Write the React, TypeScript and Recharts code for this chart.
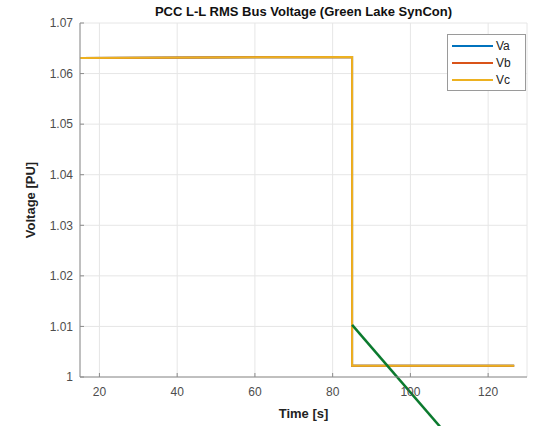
import React from 'react';
import {
  LineChart,
  Line,
  XAxis,
  YAxis,
  CartesianGrid,
  ReferenceLine
} from 'recharts';

// time samples [s] and per-phase RMS voltage [PU]
const times = [15, 85, 85, 126.7];
const vaValues = [1.0631, 1.0633, 1.0022, 1.0022];
const vbValues = [1.0631, 1.0633, 1.0022, 1.0022];
const vcValues = [1.0631, 1.0633, 1.0022, 1.0022];

const xTicks = [20, 40, 60, 80, 100, 120];
const yTicks = [1, 1.01, 1.02, 1.03, 1.04, 1.05, 1.06, 1.07];

const seriesNames = ['Va', 'Vb', 'Vc'];
const seriesColors = ['#0072BD', '#D95319', '#EDB120'];

// annotation arrow drawn on the figure
const arrowStart = { x: 85, y: 1.0103 };
const arrowEnd = { x: 107.6, y: 0.9902 };

const data = times.map((t, i) => ({
  t,
  Va: vaValues[i],
  Vb: vbValues[i],
  Vc: vcValues[i]
}));

const FONT = '"Liberation Sans", Arial, Helvetica, sans-serif';
const TICK_COLOR = '#4d4d4d';
const AXIS_COLOR = '#8c8c8c';

if (typeof document !== 'undefined') {
  document.body.style.margin = '0';
}

const LegendBox = () => (
  <div
    style={{
      position: 'absolute',
      top: 34,
      left: 447,
      border: '1px solid #9a9a9a',
      background: '#fff',
      width: 77,
      padding: '2px 0 2px 0',
      fontFamily: FONT,
      fontSize: 12,
      color: '#222'
    }}
  >
    {seriesNames.map((name, i) => (
      <div key={name} style={{ display: 'flex', alignItems: 'center', height: 17 }}>
        <div style={{ width: 41, height: 2, background: seriesColors[i], marginLeft: 4, marginRight: 3 }} />
        <span>{name}</span>
      </div>
    ))}
  </div>
);

export default function App() {
  return (
    <div style={{ position: 'relative', width: 536, height: 426, background: '#fff', fontFamily: FONT }}>
      <div
        style={{
          position: 'absolute',
          top: 4,
          left: 80,
          width: 447,
          textAlign: 'center',
          fontWeight: 'bold',
          fontSize: 13,
          color: '#111'
        }}
      >
        PCC L-L RMS Bus Voltage (Green Lake SynCon)
      </div>
      <LineChart
        width={536}
        height={426}
        data={data}
        margin={{ top: 23, right: 9, bottom: 0, left: 0 }}
      >
        <CartesianGrid xAxisId="main" yAxisId="main" stroke="#e6e6e6" />
        <XAxis
          xAxisId="main"
          dataKey="t"
          type="number"
          domain={[15, 130]}
          ticks={xTicks}
          height={49}
          tickSize={-4}
          tickMargin={14}
          tickLine={{ stroke: AXIS_COLOR }}
          axisLine={{ stroke: AXIS_COLOR }}
          tick={{ fill: TICK_COLOR, fontSize: 12, fontFamily: FONT }}
          label={{
            value: 'Time [s]',
            position: 'insideBottom',
            offset: 8,
            style: { fontWeight: 'bold', fontSize: 13, fill: '#222', fontFamily: FONT }
          }}
        />
        <XAxis
          xAxisId="top"
          orientation="top"
          dataKey="t"
          type="number"
          domain={[15, 130]}
          height={0}
          tick={false}
          axisLine={{ stroke: AXIS_COLOR }}
        />
        <YAxis
          yAxisId="main"
          type="number"
          domain={[1, 1.07]}
          ticks={yTicks}
          width={80}
          tickSize={-4}
          tickMargin={11}
          tickLine={{ stroke: AXIS_COLOR }}
          axisLine={{ stroke: AXIS_COLOR }}
          tick={{ fill: TICK_COLOR, fontSize: 12, fontFamily: FONT }}
          tickFormatter={(v: number) => String(Number(v.toFixed(2)))}
          label={{
            value: 'Voltage [PU]',
            angle: -90,
            position: 'insideLeft',
            offset: 30,
            style: { fontWeight: 'bold', fontSize: 13, fill: '#222', fontFamily: FONT, textAnchor: 'middle' }
          }}
        />
        <YAxis
          yAxisId="right"
          orientation="right"
          type="number"
          domain={[1, 1.07]}
          width={0}
          tick={false}
          axisLine={{ stroke: AXIS_COLOR }}
        />
        {seriesNames.map((name, i) => (
          <Line
            key={name}
            xAxisId="main"
            yAxisId="main"
            type="linear"
            dataKey={name}
            stroke={seriesColors[i]}
            strokeWidth={2}
            dot={false}
            isAnimationActive={false}
          />
        ))}
        <ReferenceLine
          xAxisId="main"
          yAxisId="main"
          segment={[arrowStart, arrowEnd]}
          stroke="#0b7a2e"
          strokeWidth={2.5}
          ifOverflow="visible"
        />
      </LineChart>
      <LegendBox />
    </div>
  );
}
